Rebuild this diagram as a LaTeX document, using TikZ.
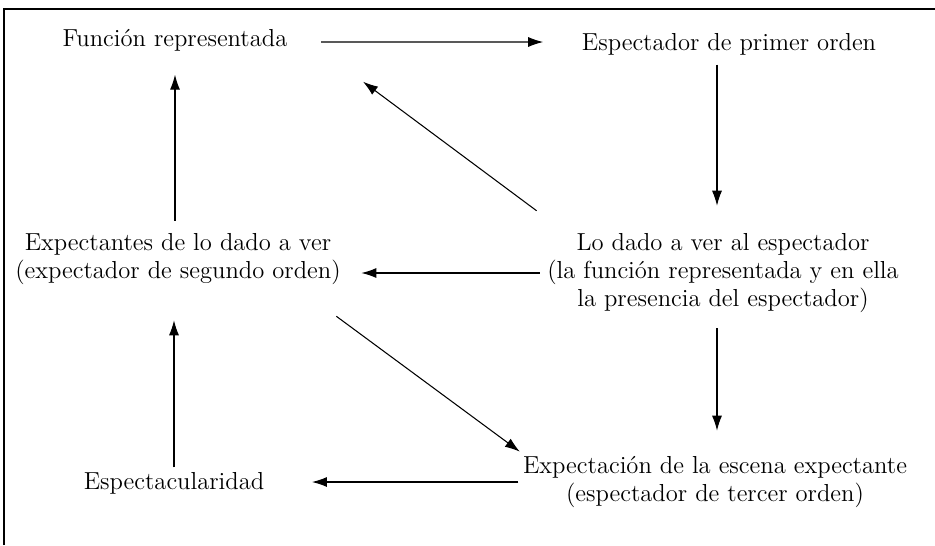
\documentclass[tikz,border=0pt]{standalone}
\usepackage{amsmath}
\usepackage{amssymb}
\usepackage{tikz}
\usetikzlibrary{arrows.meta}

\begin{document}
\begin{tikzpicture}[thick, txt/.style = {inner sep=0pt, align=center, font=\fontsize{14}{15.9}\selectfont},
	arr/.style = {line width=0.6pt, -{Latex[length=3mm,width=2mm]}}]
				\useasboundingbox (0,0) rectangle (18.7,-10.9);
				\draw[line width=0.8pt] (0.08,-10.9) -- (0.08,-0.18) -- (18.7,-0.18);
				\node[txt] (fun) at (3.5,-0.80) {Función representada};
				\node[txt] (prim) at (14.58,-0.88) {Espectador de primer orden};
				\node[txt] (exp2) at (3.56,-5.18) {Expectantes de lo dado a ver\\(expectador de segundo orden)};
				\node[txt] (dado) at (14.46,-5.46) {Lo dado a ver al espectador\\(la función representada y en ella\\la presencia del espectador)};
				\node[txt] (esp) at (3.48,-9.66) {Espectacularidad};
				\node[txt] (exp3) at (14.3,-9.64) {Expectación de la escena expectante\\(espectador de tercer orden)};
				\draw[arr] ([xshift=0.66cm,yshift=-0.04cm]fun.east) -- ([xshift=-0.76cm,yshift=0.04cm]prim.west);
				\draw[arr] ([xshift=-0.12cm,yshift=-0.18cm]dado.north |- prim.south) -- ([xshift=-0.12cm,yshift=0.54cm]dado.north);
				\draw[arr] ([xshift=-0.2cm,yshift=0.44cm]dado.north west) -- ([xshift=1.5cm,yshift=-0.6cm]fun.south east);
				\draw[arr] ([xshift=-0.14cm]dado.west) -- ([xshift=0.4cm]dado.west -| exp2.east);
				\draw[arr] ([yshift=0.24cm]fun.south |- exp2.north) -- ([yshift=-0.46cm]fun.south);
				\draw[arr] ([xshift=-0.1cm,yshift=-0.62cm]exp2.south east) -- ([xshift=-0.05cm,yshift=0.08cm]exp3.north west);
				\draw[arr] ([xshift=-0.12cm,yshift=-0.3cm]dado.south) -- ([xshift=-0.12cm,yshift=0.5cm]dado.south |- exp3.north);
				\draw[arr] ([yshift=0.08cm]esp.north) -- ([yshift=-0.7cm]esp.north |- exp2.south);
				\draw[arr] ([xshift=-0.08cm]exp3.west) -- ([xshift=0.94cm]exp3.west -| esp.east);
			\end{tikzpicture}
\end{document}
